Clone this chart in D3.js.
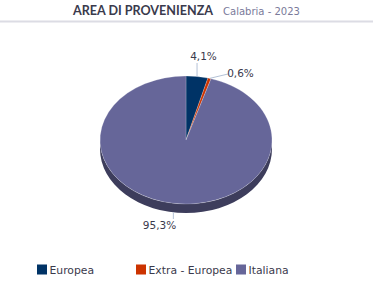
<!DOCTYPE html>
<html><head><meta charset="utf-8">
<script src="https://cdn.jsdelivr.net/npm/d3@7"></script>
<style>body{margin:0;background:#fff}svg{display:block}</style>
</head><body>
<script>
const categories = ["Europea", "Extra - Europea", "Italiana"];
const values = [4.1, 0.6, 95.3];
const valueLabels = ["4,1%", "0,6%", "95,3%"];
const colors = ["#003366", "#cc3300", "#666699"];
const sideColors = ["#002244", "#882200", "#3d3d5c"];

const W = 375, H = 285;
const svg = d3.select("body").append("svg").attr("width", W).attr("height", H);
const font = "DejaVu Sans, Verdana, sans-serif";

// Title
svg.append("text").attr("x", 73).attr("y", 14.5).attr("font-family", "Lato, sans-serif")
  .attr("font-weight", "bold").attr("font-size", 13.5).attr("fill", "#3a3a4c")
  .attr("textLength", 140).attr("lengthAdjust", "spacingAndGlyphs").text("AREA DI PROVENIENZA");
svg.append("text").attr("x", 223).attr("y", 14.5).attr("font-family", font)
  .attr("font-size", 10).attr("fill", "#7a7a9a")
  .attr("textLength", 77).attr("lengthAdjust", "spacingAndGlyphs").text("Calabria - 2023");
svg.append("line").attr("x1", 0).attr("x2", 373).attr("y1", 21.5).attr("y2", 21.5).attr("stroke", "#dcdce4").attr("stroke-width", 2);

const cx = 186, cy = 140, rx = 86, ry = 64, depth = 9;
const pie = d3.pie().sort(null).value(d => d).startAngle(0).endAngle(2 * Math.PI);
const arcs = pie(values);
const pt = (a, dy = 0) => [cx + rx * Math.sin(a), cy - ry * Math.cos(a) + dy];

const g = svg.append("g");
// sides (visible front half: angles PI/2..3PI/2)
arcs.forEach((d, i) => {
  const a0 = Math.max(d.startAngle, Math.PI / 2), a1 = Math.min(d.endAngle, 3 * Math.PI / 2);
  if (a1 <= a0) return;
  const p0 = pt(a0), p1 = pt(a1), q1 = pt(a1, depth), q0 = pt(a0, depth);
  const path = `M${p0}A${rx},${ry} 0 0 1 ${p1}L${q1}A${rx},${ry} 0 0 0 ${q0}Z`;
  g.append("path").attr("d", path).attr("fill", sideColors[i]);
});
// tops
arcs.forEach((d, i) => {
  const p0 = pt(d.startAngle), p1 = pt(d.endAngle);
  const large = d.endAngle - d.startAngle > Math.PI ? 1 : 0;
  g.append("path").attr("d", `M${cx},${cy}L${p0}A${rx},${ry} 0 ${large} 1 ${p1}Z`)
    .attr("fill", colors[i]).attr("stroke", "#ffffff").attr("stroke-opacity", 0.35).attr("stroke-width", 0.6);
});

// labels with leaders
const labelPos = [[203.5, 60, "middle"], [240.5, 77, "middle"], [159.5, 229, "middle"]];
arcs.forEach((d, i) => {
  const m = (d.startAngle + d.endAngle) / 2;
  const onBottom = Math.cos(m) < 0;
  const s = pt(m, onBottom ? depth : 0);
  const [lx, ly, anc] = labelPos[i];
  let ex, ey;
  if (i === 0) { ex = s[0]; ey = 63; }
  else if (i === 1) { ex = 228; ey = 74; }
  else { ex = s[0]; ey = 219; }
  svg.append("line").attr("x1", s[0]).attr("y1", s[1]).attr("x2", ex).attr("y2", ey)
    .attr("stroke", "#b4c2d6").attr("stroke-width", 1);
  svg.append("text").attr("x", lx).attr("y", ly).attr("text-anchor", anc)
    .attr("font-family", font).attr("font-size", 10.5).attr("fill", "#3a3a4c").text(valueLabels[i]);
});

// legend
const legX = [37, 136, 236];
categories.forEach((c, i) => {
  svg.append("rect").attr("x", legX[i]).attr("y", 264.5).attr("width", 10).attr("height", 10).attr("fill", colors[i]);
  svg.append("text").attr("x", legX[i] + 12.5).attr("y", 273.5).attr("font-family", font)
    .attr("font-size", 10.8).attr("fill", "#3a3a4c").text(c);
});
</script>
</body></html>
